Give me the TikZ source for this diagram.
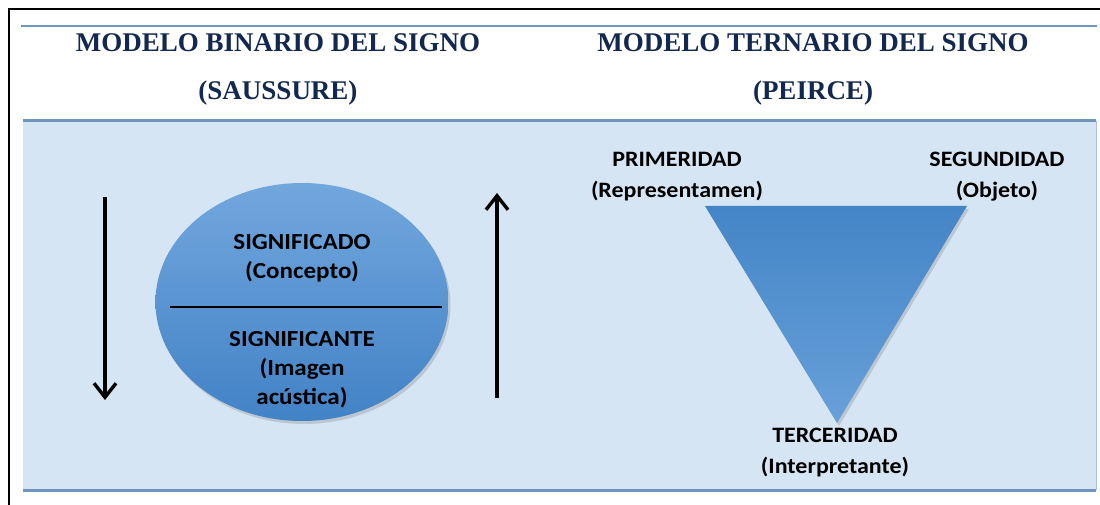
\documentclass[tikz,border=0pt]{standalone}
\usepackage{fontspec}
\setmainfont{Liberation Serif}
\newfontfamily\labfont[FakeStretch=1.09]{Carlito}
\usetikzlibrary{arrows.meta,shapes.geometric,shadows}
\definecolor{navy}{HTML}{13284F}
\definecolor{panel}{HTML}{D6E5F4}
\definecolor{rule}{HTML}{6F95BD}
\definecolor{ellTop}{HTML}{72A7DD}
\definecolor{ellBot}{HTML}{4282C6}
\definecolor{triTop}{HTML}{4485C7}
\definecolor{triBot}{HTML}{68A0D9}
\tikzset{
  title/.style={font=\fontsize{27}{30}\selectfont\bfseries, text=navy, inner sep=0pt, anchor=base},
  elltext/.style={font=\labfont\bfseries\fontsize{23}{29}\selectfont, align=center, inner sep=0pt, anchor=base},
  trilabel/.style={font=\labfont\bfseries\fontsize{22}{31}\selectfont, align=center, inner sep=0pt, anchor=base},
  bigarrow/.style={line width=3.4pt, -{Straight Barb[length=14pt,width=22pt]}},
  softshadow/.style={drop shadow={opacity=0.3, shadow xshift=2pt, shadow yshift=-3pt}},
}
\begin{document}
\begin{tikzpicture}[x=1pt,y=-1pt]
\useasboundingbox (0,0) rectangle (1100,505);
\fill[white] (0,0) rectangle (1100,505);
% outer frame
\draw[line width=2.6pt, black] (9,505) -- (9,9) -- (1100,9);
% thin rule under frame
\draw[line width=1.2pt, rule] (21,26) -- (1097,26);
% panel
\fill[panel] (23,121) rectangle (1096,490);
\draw[line width=3pt, rule] (23,121) -- (1096,121);
\draw[line width=3pt, rule] (23,490) -- (1096,490);
\draw[line width=1pt, rule!60] (1096,121) -- (1096,490);
% titles
\node[title] (t1) at (278,52) {MODELO BINARIO DEL SIGNO};
\node[title] (t1b) at (278,100) {(SAUSSURE)};
\node[title] (t2) at (813,52) {MODELO TERNARIO DEL SIGNO};
\node[title] (t2b) at (813,100) {(PEIRCE)};
% ellipse
\node[ellipse, minimum width=293pt, minimum height=238pt, top color=ellTop, bottom color=ellBot, draw=none, softshadow] (sign) at (302,302) {};
\coordinate (divL) at (170,307);
\coordinate (divR) at (442,307);
\draw[line width=2.6pt, black] (divL) -- (divR);
\node[elltext] (sdo) at (302,278) {SIGNIFICADO\\(Concepto)};
\node[elltext] (ste) at (302,404) {SIGNIFICANTE\\(Imagen\\acústica)};
% arrows
\coordinate (aLtop) at (105,197);
\coordinate (aLbot) at (105,400);
\coordinate (aRbot) at (497,398);
\coordinate (aRtop) at (497,193);
\draw[bigarrow] (aLtop) -- (aLbot);
\draw[bigarrow] (aRbot) -- (aRtop);
% triangle
\coordinate (p1) at (705,206);
\coordinate (p2) at (967,206);
\coordinate (p3) at (837,423);
\path[top color=triTop, bottom color=triBot, softshadow] (p1) -- (p2) -- (p3) -- cycle;
\node[trilabel] (prim) at (677,198) {PRIMERIDAD\\(Representamen)};
\node[trilabel] (seg) at (997,198) {SEGUNDIDAD\\(Objeto)};
\node[trilabel] (ter) at (835,473) {TERCERIDAD\\(Interpretante)};
\end{tikzpicture}
\end{document}
